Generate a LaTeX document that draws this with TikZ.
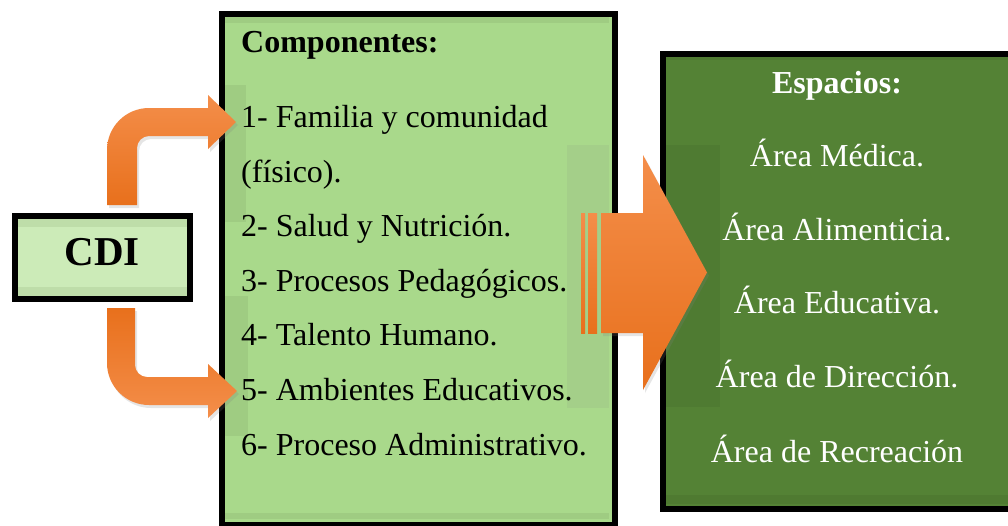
\documentclass[tikz,border=0pt]{standalone}
\usepackage{fontspec}
\setmainfont{Liberation Serif}
\usetikzlibrary{shadows,calc}
\definecolor{midgreen}{HTML}{A9D98B}
\definecolor{darkgreen}{HTML}{548235}
\definecolor{cdigreen}{HTML}{CCEBB8}
\definecolor{cdiband}{HTML}{BEDDA9}
\definecolor{orLight}{HTML}{F48E4A}
\definecolor{orDark}{HTML}{E8701C}
\tikzset{
  boxline/.style={draw=black,line width=6pt,inner sep=0pt},
  itemtext/.style={anchor=base west,inner sep=0pt,font=\fontsize{32}{38}\selectfont},
  spacetext/.style={anchor=base,inner sep=0pt,text=white,font=\fontsize{32}{38}\selectfont},
  veil/.style={fill=black,opacity=0.06,draw=none},
  arrowshadow/.style={drop shadow={shadow xshift=2pt,shadow yshift=-3pt,opacity=0.2}},
}
\begin{document}
\begin{tikzpicture}[x=1pt,y=-1pt]
\useasboundingbox (0,0) rectangle (1008,525);
\fill[white] (0,0) rectangle (1008,525);
% boxes
\node[boxline,fill=midgreen,minimum width=393pt,minimum height=511pt,anchor=north west] (mid) at (219,11) {};
\node[boxline,fill=darkgreen,minimum width=353pt,minimum height=455pt,anchor=north west] (spc) at (659.5,51) {};
% subtle bands / shadow boxes
\fill[veil] (222,14) rectangle (609,23);
\fill[veil] (222,513) rectangle (609,519);
\fill[veil] (662.5,54) rectangle (1008,60);
\fill[veil] (662.5,495) rectangle (1008,503.5);
\fill[black,opacity=0.06] (222,85) rectangle (246,222);
\fill[black,opacity=0.06] (222,296) rectangle (248,436);
\fill[gray,opacity=0.11] (567,145) rectangle (609,408);
\fill[black,opacity=0.05] (662.5,145) rectangle (720,407);
% CDI
\node[boxline,fill=cdigreen,minimum width=175pt,minimum height=83pt] (cdi) at (102.5,257.5) {};
\fill[cdiband] (18,219) rectangle (187,227);
\fill[cdiband] (18,287) rectangle (187,296);
\node[inner sep=0pt,anchor=base,font=\fontsize{41}{48}\selectfont\bfseries] (cditext) at (102,265) {CDI};
% bent arrows CDI -> components
\coordinate (upBase) at (107,205);
\coordinate (upTip) at (236,122);
\coordinate (loBase) at (107,308);
\coordinate (loTip) at (237,391);
\path[arrowshadow,top color=orLight,bottom color=orDark]
  (upBase) -- (107,150) .. controls (107,126.8) and (125.8,108) .. (149,108)
  -- (208,108) -- (208,95) -- (upTip) -- (208,149) -- (208,136) -- (149,136)
  .. controls (142.4,136) and (137,141.4) .. (137,148) -- (137,205) -- cycle;
\path[arrowshadow,top color=orDark,bottom color=orLight]
  (loBase) -- (107,363) .. controls (107,386.2) and (125.8,405) .. (149,405)
  -- (208,405) -- (208,418) -- (loTip) -- (208,364) -- (208,377) -- (147,377)
  .. controls (140.4,377) and (135,371.6) .. (135,365) -- (135,308) -- cycle;
% big arrow components -> spaces
\coordinate (bigTip) at (707,272.5);
\path[arrowshadow,top color=orLight,bottom color=orDark]
  (601,213) -- (643,213) -- (643,155) -- (bigTip) -- (643,390) -- (643,333) -- (601,333) -- cycle;
\path[top color=orLight,bottom color=orDark] (581,213) rectangle (585,333);
\path[top color=orLight,bottom color=orDark] (588,213) rectangle (597,333);
% component texts
\node[itemtext,font=\fontsize{32}{38}\selectfont\bfseries] (t0) at (241,52) {Componentes:};
\node[itemtext] (t1) at (241,127) {1- Familia y comunidad};
\node[itemtext] (t1b) at (241,182) {(físico).};
\node[itemtext] (t2) at (241,236) {2- Salud y Nutrición.};
\node[itemtext] (t3) at (241,291) {3- Procesos Pedagógicos.};
\node[itemtext] (t4) at (241,345) {4- Talento Humano.};
\node[itemtext] (t5) at (241,400) {5- Ambientes Educativos.};
\node[itemtext] (t6) at (241,455) {6- Proceso Administrativo.};
% space texts
\node[spacetext,font=\fontsize{32}{38}\selectfont\bfseries] (e0) at (837,93) {Espacios:};
\node[spacetext] (e1) at (837,166) {Área Médica.};
\node[spacetext] (e2) at (837,240) {Área Alimenticia.};
\node[spacetext] (e3) at (837,313) {Área Educativa.};
\node[spacetext] (e4) at (837,387) {Área de Dirección.};
\node[spacetext] (e5) at (837,462) {Área de Recreación};
\end{tikzpicture}
\end{document}
